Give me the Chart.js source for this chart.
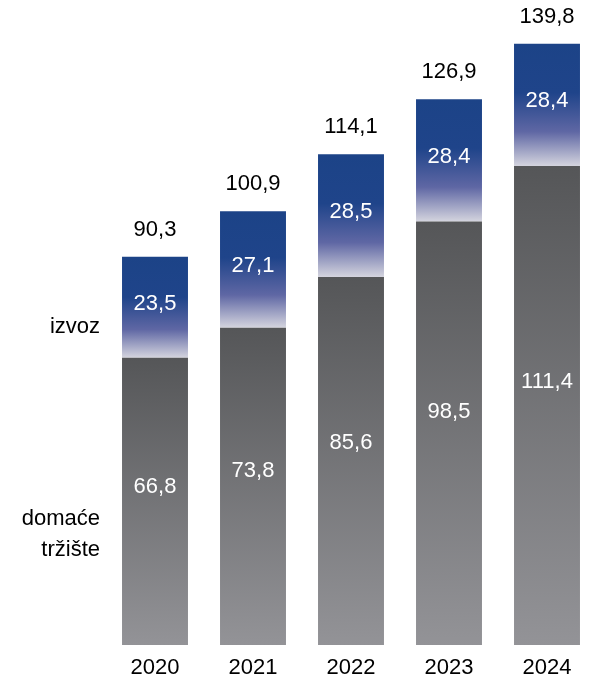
<!DOCTYPE html>
<html>
<head>
<meta charset="utf-8">
<script src="https://cdn.jsdelivr.net/npm/chart.js@4/dist/chart.umd.min.js"></script>
<style>
  html, body { margin: 0; padding: 0; background: #fff; }
  #wrap { width: 596px; height: 681px; position: relative; }
</style>
</head>
<body>
<div id="wrap"><canvas id="chart"></canvas></div>
<script>
// data
const years = ['2020', '2021', '2022', '2023', '2024']
const domestic = [66.8, 73.8, 85.6, 98.5, 111.4]
const exports = [23.5, 27.1, 28.5, 28.4, 28.4]
const totals = [90.3, 100.9, 114.1, 126.9, 139.8]
const seriesNames = ['domaće tržište', 'izvoz']

const FONT = "'Liberation Sans', Arial, sans-serif"
const FSIZE = 22

const fmt = v => v.toFixed(1).replace('.', ',')

// gradient for each segment, computed from the y scale
function segGradient(ctx, isExport) {
  const chart = ctx.chart
  const y = chart.scales.y
  if (!chart.chartArea || !y || ctx.dataIndex === undefined) return isExport ? '#1d4488' : '#5a5a5c'
  const i = ctx.dataIndex
  const lo = isExport ? domestic[i] : 0
  const hi = isExport ? domestic[i] + exports[i] : domestic[i]
  const top = y.getPixelForValue(hi)
  const bot = y.getPixelForValue(lo)
  const g = chart.ctx.createLinearGradient(0, top, 0, bot)
  if (isExport) {
    g.addColorStop(0, '#1c4387')
    g.addColorStop(0.4, '#1f448a')
    g.addColorStop(0.72, '#5f67a4')
    g.addColorStop(1, '#d4d4de')
  } else {
    g.addColorStop(0, '#555658')
    g.addColorStop(1, '#939397')
  }
  return g
}

const labelPlugin = {
  id: 'labels',
  afterDatasetsDraw(chart) {
    const c = chart.ctx
    c.save()
    c.font = FSIZE + 'px ' + FONT
    c.textAlign = 'center'
    c.textBaseline = 'middle'
    const m0 = chart.getDatasetMeta(0).data
    const m1 = chart.getDatasetMeta(1).data
    for (let i = 0; i < years.length; i++) {
      const d = m0[i], e = m1[i]
      c.fillStyle = '#fff'
      c.fillText(fmt(domestic[i]), d.x, d.y + (d.base - d.y) * 0.45)
      c.fillText(fmt(exports[i]), e.x, e.y + (e.base - e.y) * 0.47)
      c.fillStyle = '#000'
      c.fillText(fmt(totals[i]), e.x, e.y - 27)
    }
    // side legend texts
    c.textAlign = 'right'
    c.fillStyle = '#000'
    c.fillText('izvoz', 100, 327)
    c.fillText('domaće', 100, 519)
    c.fillText('tržište', 100, 550)
    c.restore()
  }
}

new Chart('chart', {
  type: 'bar',
  data: {
    labels: years,
    datasets: [
      {
        label: seriesNames[0],
        data: domestic,
        backgroundColor: ctx => segGradient(ctx, false),
        borderWidth: 0
      },
      {
        label: seriesNames[1],
        data: exports,
        backgroundColor: ctx => segGradient(ctx, true),
        borderWidth: 0
      }
    ]
  },
  options: {
    responsive: true,
    maintainAspectRatio: false,
    animation: false,
    layout: { padding: { left: 106, right: 0, top: 0, bottom: 0 } },
    datasets: { bar: { categoryPercentage: 1, barPercentage: 0.673 } },
    plugins: {
      legend: { display: false },
      tooltip: { enabled: false }
    },
    scales: {
      x: {
        stacked: true,
        grid: { display: false, drawTicks: false },
        border: { display: false },
        ticks: { color: '#000', padding: 10, font: { family: FONT, size: FSIZE } },
        afterFit(scale) { scale.height = 36 }
      },
      y: {
        stacked: true,
        display: false,
        min: 0,
        max: 150
      }
    }
  },
  plugins: [labelPlugin]
})
</script>
</body>
</html>
